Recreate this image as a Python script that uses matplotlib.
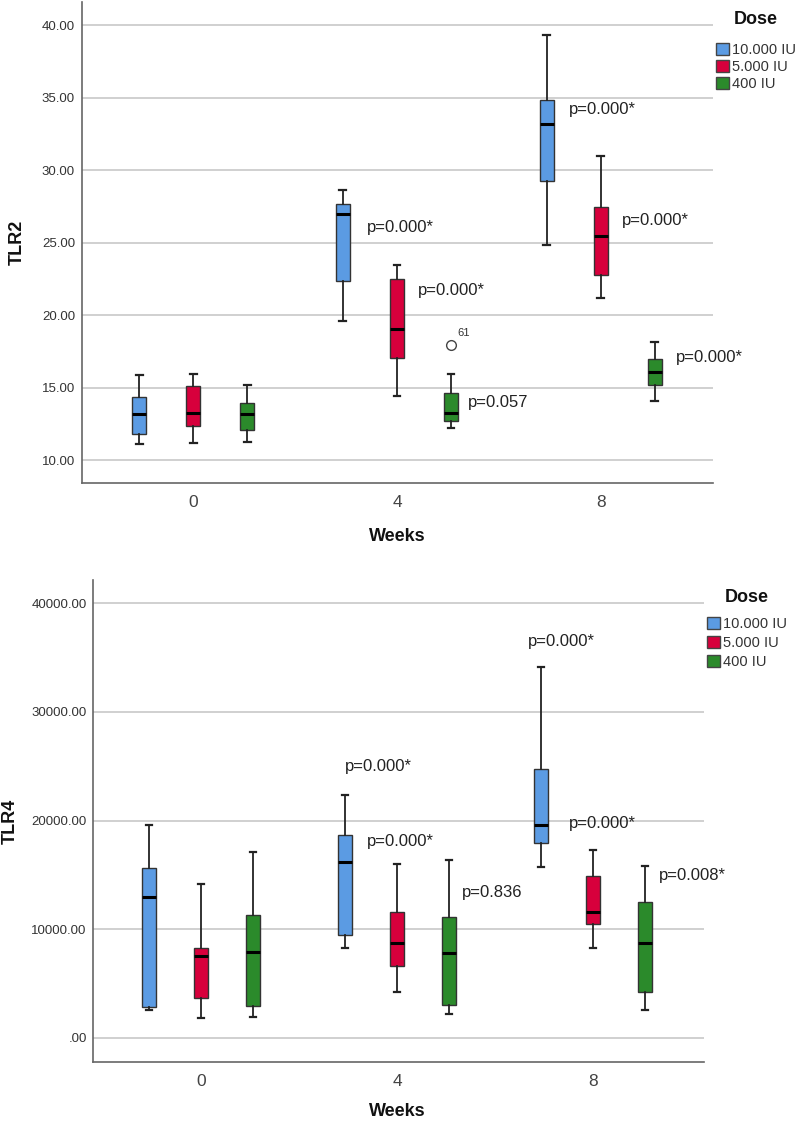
import matplotlib
matplotlib.use("Agg")
import matplotlib.pyplot as plt
from matplotlib.patches import Patch
from matplotlib.ticker import FuncFormatter

plt.rcParams['font.family'] = ['Liberation Sans', 'DejaVu Sans']

weeks = ['0', '4', '8']
doses = ['10.000 IU', '5.000 IU', '400 IU']
colors = ['#5B9BE3', '#D7003C', '#2B8A2B']

# rows = dose, columns = week
tlr2_whislo = [[11.08, 19.56, 24.83], [11.20, 14.41, 21.17], [11.24, 12.18, 14.07]]
tlr2_q1 = [[11.80, 22.37, 29.24], [12.37, 17.03, 22.74], [12.10, 12.69, 15.15]]
tlr2_med = [[13.20, 27.00, 33.15], [13.26, 19.06, 25.47], [13.20, 13.22, 16.07]]
tlr2_q3 = [[14.34, 27.63, 34.83], [15.10, 22.46, 27.47], [13.93, 14.60, 16.97]]
tlr2_whishi = [[15.86, 28.60, 39.33], [15.93, 23.45, 30.97], [15.17, 15.95, 18.12]]
tlr2_outlier = 17.95  # case 61, week 4, 400 IU
tlr2_p = [['', 'p=0.000*', 'p=0.000*'], ['', 'p=0.000*', 'p=0.000*'], ['', 'p=0.057', 'p=0.000*']]

tlr4_whislo = [[2576, 8280, 15760], [1810, 4230, 8280], [1900, 2210, 2580]]
tlr4_q1 = [[2820, 9500, 17970], [3650, 6650, 10520], [2910, 3040, 4200]]
tlr4_med = [[12940, 16160, 19570], [7570, 8710, 11560], [7940, 7850, 8770]]
tlr4_q3 = [[15640, 18680, 24720], [8280, 11560, 14870], [11320, 11160, 12480]]
tlr4_whishi = [[19570, 22350, 34130], [14170, 16040, 17320], [17110, 16350, 15820]]
tlr4_p = [['', 'p=0.000*', 'p=0.000*'], ['', 'p=0.000*', 'p=0.000*'], ['', 'p=0.836', 'p=0.008*']]

W, H = 797, 1124
fig = plt.figure(figsize=(W / 100, H / 100), dpi=100)


def px_rect(l, t, r, b):
    return [l / W, 1 - b / H, (r - l) / W, (b - t) / H]


def fmt(v, pos):
    s = '%.2f' % v
    if s == '0.00':
        s = '.00'
    return s


def draw_panel(ax, lo, q1, med, q3, hi, ylim, yticks, ypad):
    offs = [-0.265, 0.0, 0.265]
    for d in range(3):
        stats = []
        for w in range(3):
            fl = [tlr2_outlier] if (ax is ax_top and d == 2 and w == 1) else []
            stats.append({'whislo': lo[d][w], 'q1': q1[d][w], 'med': med[d][w],
                          'q3': q3[d][w], 'whishi': hi[d][w], 'fliers': fl})
        ax.bxp(stats, positions=[w + offs[d] for w in range(3)], widths=0.068,
               capwidths=0.034, patch_artist=True, manage_ticks=False,
               boxprops=dict(facecolor=colors[d], edgecolor='#333333', linewidth=1),
               medianprops=dict(color='black', linewidth=2.2),
               whiskerprops=dict(color='#222222', linewidth=1.3),
               capprops=dict(color='#222222', linewidth=1.6),
               flierprops=dict(marker='o', markerfacecolor='white',
                               markeredgecolor='#444444', markersize=7, markeredgewidth=1))
    ax.set_xlim(-0.545, 2.55)
    ax.set_ylim(*ylim)
    ax.set_yticks(yticks)
    ax.yaxis.set_major_formatter(FuncFormatter(fmt))
    ax.set_xticks([0, 1, 2])
    ax.set_xticklabels(weeks)
    ax.grid(axis='y', color='#C8C8C8', linewidth=1.2)
    ax.set_axisbelow(True)
    for s in ['top', 'right']:
        ax.spines[s].set_visible(False)
    for s in ['left', 'bottom']:
        ax.spines[s].set_color('#666666')
        ax.spines[s].set_linewidth(1.2)
    ax.tick_params(axis='y', length=0, labelsize=9.5, labelcolor='#333333', pad=ypad)
    ax.tick_params(axis='x', length=0, labelsize=12.5, labelcolor='#444444', pad=9)


# top panel: TLR2
ax_top = fig.add_axes(px_rect(82, 2, 713, 483))
draw_panel(ax_top, tlr2_whislo, tlr2_q1, tlr2_med, tlr2_q3, tlr2_whishi,
           (8.414, 41.59), [10, 15, 20, 25, 30, 35, 40], 5)
top_pos = [[None, (0.853, 26.05), (1.843, 34.2)],
           [None, (1.103, 21.66), (2.103, 26.55)],
           [None, (1.348, 14.0), (2.368, 17.1)]]
for d in range(3):
    for w in range(1, 3):
        x, y = top_pos[d][w]
        ax_top.text(x, y, tlr2_p[d][w], fontsize=12, color='#222222', va='center', ha='left')
ax_top.text(1.294, 18.76, '61', fontsize=8, color='#333333', va='center', ha='left')

# bottom panel: TLR4
ax_bot = fig.add_axes(px_rect(93, 580, 704, 1062))
draw_panel(ax_bot, tlr4_whislo, tlr4_q1, tlr4_med, tlr4_q3, tlr4_whishi,
           (-2208, 42134), [0, 10000, 20000, 30000, 40000], 4.5)
ax_bot.set_xlim(-0.551, 2.566)
bot_pos = [[None, (0.735, 25020), (1.667, 36520)],
           [None, (0.845, 18060), (1.879, 19690)],
           [None, (1.332, 13370), (2.337, 14930)]]
for d in range(3):
    for w in range(1, 3):
        x, y = bot_pos[d][w]
        ax_bot.text(x, y, tlr4_p[d][w], fontsize=12, color='#222222', va='center', ha='left')

# axis titles
fig.text(17.5 / W, 1 - 242 / H, 'TLR2', rotation=90, fontsize=13, fontweight='bold',
         color='#111111', ha='center', va='center')
fig.text(397 / W, 1 - 537 / H, 'Weeks', fontsize=13, fontweight='bold',
         color='#111111', ha='center', va='center')
fig.text(10 / W, 1 - 821 / H, 'TLR4', rotation=90, fontsize=13, fontweight='bold',
         color='#111111', ha='center', va='center')
fig.text(397 / W, 1 - 1112 / H, 'Weeks', fontsize=13, fontweight='bold',
         color='#111111', ha='center', va='center')

# legends (title placed as separate text, SPSS style)
handles = [Patch(facecolor=c, edgecolor='#444444', linewidth=1) for c in colors]
for lx, ly, tx, ty, sp in [(716, 43, 756, 19, 0.2), (707, 617, 747, 597, 0.35)]:
    fig.text(tx / W, 1 - ty / H, 'Dose', fontsize=13, fontweight='bold',
             color='#111111', ha='center', va='center')
    leg = fig.legend(handles, doses, loc='upper left',
                     bbox_to_anchor=(lx / W, 1 - ly / H), frameon=False,
                     fontsize=10.5, handlelength=0.88, handleheight=0.88,
                     handletextpad=0.2, labelspacing=sp, borderpad=0,
                     borderaxespad=0)
    for t in leg.get_texts():
        t.set_color('#333333')

fig.savefig('out.png', dpi=100)
